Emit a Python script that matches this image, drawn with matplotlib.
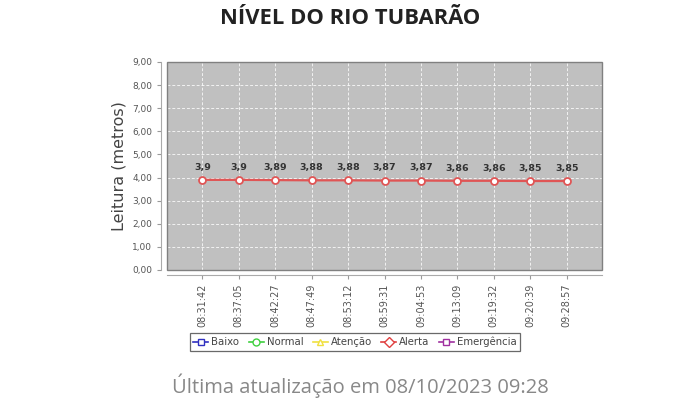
import matplotlib.pyplot as plt
from matplotlib.lines import Line2D
from matplotlib.patches import Rectangle

# leituras do rio
horarios = ['08:31:42', '08:37:05', '08:42:27', '08:47:49', '08:53:12', '08:59:31',
            '09:04:53', '09:13:09', '09:19:32', '09:20:39', '09:28:57']
leituras = [3.9, 3.9, 3.89, 3.88, 3.88, 3.87, 3.87, 3.86, 3.86, 3.85, 3.85]
y_ticks = [0, 1, 2, 3, 4, 5, 6, 7, 8, 9]

legend_names = ['Baixo', 'Normal', 'Atenção', 'Alerta', 'Emergência']
legend_colors = ['#3030c0', '#40d040', '#f0e040', '#e04040', '#a030a0']
legend_markers = ['s', 'o', '^', 'D', 's']

fig = plt.figure(figsize=(7, 3.98), dpi=100)
ax = fig.add_axes([167 / 700, 1 - 270 / 398, (602 - 167) / 700, (270 - 62) / 398])
ax.set_facecolor('#c0c0c0')

# spines first (set_position resets the ticks)
for s in ['top', 'right']:
    ax.spines[s].set_visible(False)
ax.spines['left'].set_position(('outward', 4.3))
ax.spines['bottom'].set_position(('outward', 3.6))
ax.spines['left'].set_color('#aaaaaa')
ax.spines['bottom'].set_color('#aaaaaa')
ax.add_patch(Rectangle((0, 0), 1, 1, transform=ax.transAxes, fill=False,
                       edgecolor='#808080', linewidth=1.0, clip_on=False, zorder=4))

xs = list(range(len(leituras)))
ax.plot(xs, leituras, color='#e05555', linewidth=1.6, marker='o', markersize=5,
        markerfacecolor='white', markeredgecolor='#e05555', markeredgewidth=1.3, zorder=3)
for x, v in zip(xs, leituras):
    txt = ('%g' % v).replace('.', ',')
    ax.text(x, v + 0.35, txt, ha='center', va='bottom', fontsize=6.8, color='#333333',
            fontweight='semibold')

ax.set_xlim(-0.97, 10.97)
ax.set_ylim(0, 9)
ax.set_yticks(y_ticks)
ax.set_yticklabels(['%d,00' % t for t in y_ticks])
ax.set_xticks(xs)
ax.set_xticklabels(horarios)
ax.tick_params(axis='both', labelsize=6.5, labelcolor='#555555', color='#999999',
               length=3, width=0.8)
ax.tick_params(axis='x', labelrotation=90, labelsize=7.0, pad=3)

ax.grid(True, color='white', linestyle=(0, (3, 2)), linewidth=0.7, alpha=0.8)
ax.set_axisbelow(True)

ax.set_ylabel('Leitura (metros)', fontsize=11.5, color='#444444', labelpad=4)

handles = [Line2D([0], [0], color=c, marker=m, markersize=5, markerfacecolor='white',
                  markeredgecolor=c, linewidth=1.2)
           for c, m in zip(legend_colors, legend_markers)]
leg = fig.legend(handles, legend_names, loc='center', bbox_to_anchor=(355 / 700, 1 - 342 / 398),
                 ncol=5, fontsize=7.3, frameon=True, fancybox=False, handlelength=1.5,
                 handletextpad=0.3, columnspacing=0.9, borderpad=0.35, edgecolor='#444444')
leg.get_frame().set_linewidth(0.9)
for t in leg.get_texts():
    t.set_color('#444444')

fig.text(0.5, 1 - 19 / 398, 'NÍVEL DO RIO TUBARÃO', ha='center', va='center',
         fontsize=15.8, fontweight='bold', color='#222222', family='Open Sans')
fig.text(360 / 700, 1 - 386 / 398, 'Última atualização em 08/10/2023 09:28', ha='center',
         va='center', fontsize=14.5, color='#888888', family='Open Sans')

fig.savefig('out.png', dpi=100)
